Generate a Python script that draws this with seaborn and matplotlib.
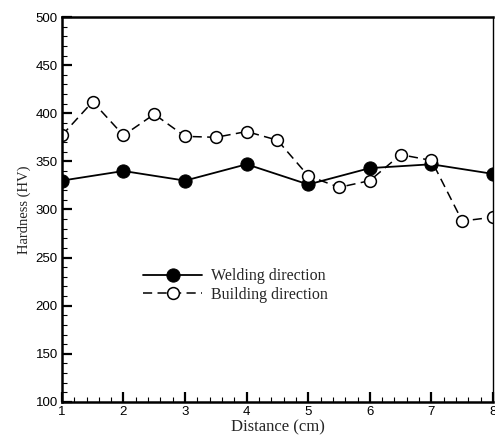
import matplotlib
matplotlib.use("Agg")
import matplotlib.pyplot as plt
import seaborn as sns
import pandas as pd
from matplotlib.ticker import MultipleLocator

# data
welding_x = [1, 2, 3, 4, 5, 6, 7, 8]
welding_hv = [330, 340, 330, 347, 326, 343, 347, 337]

building_x = [1, 1.5, 2, 2.5, 3, 3.5, 4, 4.5, 5, 5.5, 6, 6.5, 7, 7.5, 8]
building_hv = [377, 412, 377, 399, 376, 375, 381, 372, 335, 323, 330, 357, 351, 288, 292]

sns.set_style("white")

fig = plt.figure(figsize=(4.95, 4.36), dpi=100)
ax = fig.add_axes([0.125, 0.078, 0.871, 0.883])

weld = pd.DataFrame({"x": welding_x, "hv": welding_hv})
build = pd.DataFrame({"x": building_x, "hv": building_hv})

sns.lineplot(data=weld, x="x", y="hv", ax=ax, color="black", lw=1.3,
             marker="o", markersize=9.5, markerfacecolor="black",
             markeredgecolor="black", label="Welding direction")
sns.lineplot(data=build, x="x", y="hv", ax=ax, color="black", lw=1.1,
             marker="o", markersize=8.5, markerfacecolor="white",
             markeredgecolor="black", markeredgewidth=1.1,
             label="Building direction")
ax.lines[1].set_dashes([6, 3.5])

ax.set_xlim(1, 8)
ax.set_ylim(100, 500)
ax.xaxis.set_major_locator(MultipleLocator(1))
ax.xaxis.set_minor_locator(MultipleLocator(0.2))
ax.yaxis.set_major_locator(MultipleLocator(50))
ax.yaxis.set_minor_locator(MultipleLocator(10))
ax.tick_params(which="both", bottom=True, left=True, top=False, right=False,
               direction="in", color="black")
ax.tick_params(which="major", length=7, width=1.6, labelsize=9.5, pad=3,
               labelcolor="black")
ax.tick_params(which="minor", length=3.5, width=0.8)
for lab in ax.get_xticklabels() + ax.get_yticklabels():
    lab.set_fontfamily("Liberation Sans")

for side in ["left", "bottom", "top"]:
    ax.spines[side].set_linewidth(1.8)
ax.spines["right"].set_linewidth(1.0)
for sp in ax.spines.values():
    sp.set_color("black")

ax.set_xlabel("Distance (cm)", family="Liberation Serif", fontsize=12, labelpad=1)
ax.set_ylabel("Hardness (HV)", family="Liberation Serif", fontsize=10.5, labelpad=3)

leg = ax.legend(loc="upper left", bbox_to_anchor=(0.155, 0.385), frameon=False,
                prop={"family": "Liberation Serif", "size": 11.5},
                handlelength=3.7, handletextpad=0.55, labelspacing=0.15)
leg.get_lines()[1].set_dashes([6, 3.5])

fig.savefig("out.png", dpi=100)
